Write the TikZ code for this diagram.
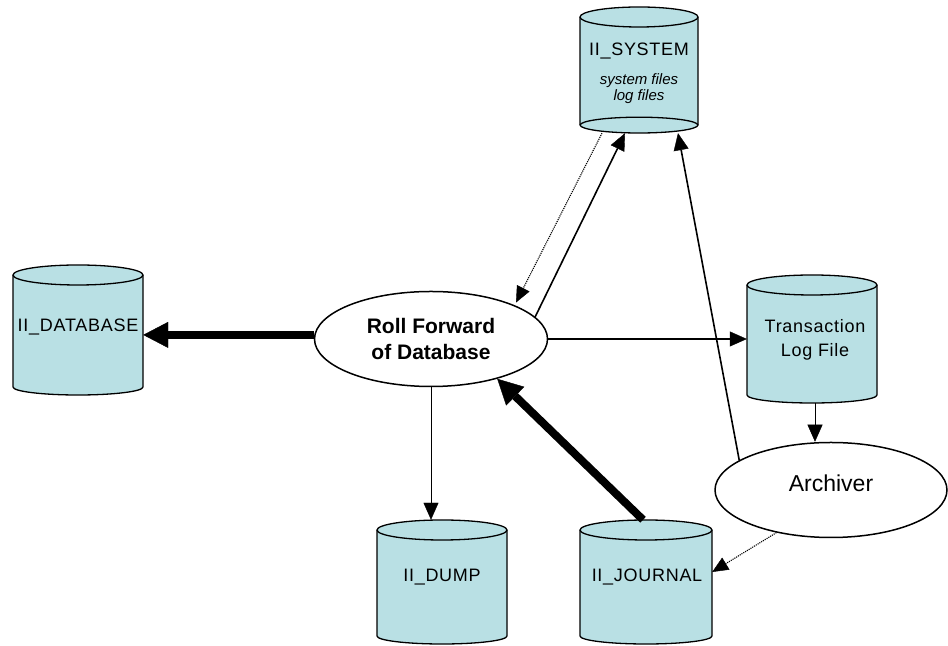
\documentclass[tikz,border=0pt]{standalone}
\usepackage{fontspec}
\setmainfont{Liberation Sans}
\usepackage{tikz}
\usetikzlibrary{calc,arrows.meta,positioning,shapes.geometric}
\definecolor{drumfill}{RGB}{185,224,228}
\tikzset{
  drumline/.style={draw=black,line width=1.3bp,fill=drumfill},
  drumbox/.style={rectangle,inner sep=0pt,draw=none},
  drumtext/.style={font=\fontsize{18bp}{24bp}\selectfont\addfontfeature{LetterSpace=4},align=center},
  subtext/.style={font=\itshape\fontsize{15bp}{16bp}\selectfont,align=center},
  bubble/.style={ellipse,draw,line width=1.5bp,fill=white,inner sep=0pt},
  flow/.style={line width=1.6bp,-{Triangle[length=17bp,width=15bp,line width=0.4bp]}},
  thinflow/.style={line width=0.9bp,-{Triangle[length=17bp,width=15bp,line width=0.4bp]}},
  dotflow/.style={line width=1.1bp,densely dotted,-{Triangle[length=16bp,width=14bp,line width=0.4bp]}},
  bigflow/.style={line width=8bp,-{Triangle[length=25bp,width=26bp,line width=0.4bp]}}
}
% drum: name, centre, width, height
\newcommand{\dbdrum}[4]{%
  \filldraw[drumline] ($(#2)+(-#3/2,#4/2-10)$) -- ($(#2)+(-#3/2,-#4/2+8)$)
    arc[start angle=180,end angle=360,x radius=#3/2,y radius=8]
    -- ($(#2)+(#3/2,#4/2-10)$)
    arc[start angle=0,end angle=180,x radius=#3/2,y radius=10] -- cycle;
  \draw[drumline,fill=none] ($(#2)+(-#3/2,#4/2-10)$)
    arc[start angle=180,end angle=360,x radius=#3/2,y radius=10];
  \node[drumbox,minimum width=#3bp,minimum height=#4bp] (#1) at (#2) {};
}

\begin{document}
\begin{tikzpicture}[x=1bp,y=1bp]
  \useasboundingbox (0,0) rectangle (948,646);

  % Files
  \dbdrum{db}{78,316}{130}{130}
  \dbdrum{sys}{639,576}{118}{126}
  \draw[drumline,fill=none] ($(sys.south)+(-59,8)$)
    arc[start angle=180,end angle=0,x radius=59,y radius=8]; % bottom rim
  \dbdrum{tlog}{812,307}{130}{128}
  \dbdrum{dump}{442,64}{130}{124}
  \dbdrum{jnl}{646,64}{132}{124}

  \node[drumtext] (dbname) at (78,319) {II\_DATABASE};
  \node[drumtext] (sysname) at (639,595) {II\_SYSTEM};
  \node[subtext] (syssub) at (639,557) {system files\\log files};
  \node[drumtext] (tlogname) at (815,306) {Transaction\\Log File};
  \node[drumtext] (dumpname) at (442,69) {II\_DUMP};
  \node[drumtext] (jnlname) at (647,69) {II\_JOURNAL};

  % Processes
  \node[bubble,minimum width=233bp,minimum height=95bp,
    font=\bfseries\fontsize{21bp}{26bp}\selectfont,align=center]
    (roll) at (431,307) {Roll Forward\\of Database};
  \node[bubble,minimum width=232bp,minimum height=95bp,text depth=14bp,
    font=\fontsize{23bp}{28bp}\selectfont] (arch) at (831,156) {Archiver};

  % Flows
  \draw[bigflow] (roll.178) -- (roll.178 -| db.east);
  \draw[bigflow] ([xshift=-3bp]jnl.north) -- (roll.-31);
  \draw[flow] (roll.12) -- ([xshift=-14bp]sys.south);
  \draw[dotflow,shorten >=3bp] ([xshift=-37bp]sys.south) -- (roll.22);
  \draw[flow] (roll.east) -- (roll.east -| tlog.west);
  \draw[thinflow] ([xshift=3bp]tlog.south) -- ([xshift=3bp]tlog.south |- arch.north);
  \draw[flow] (arch.162) -- ([xshift=39bp]sys.south);
  \draw[dotflow] (arch.218) -- ([yshift=10bp]jnl.east);
  \draw[thinflow] (roll.south) -- (roll.south |- dump.north);
\end{tikzpicture}
\end{document}
